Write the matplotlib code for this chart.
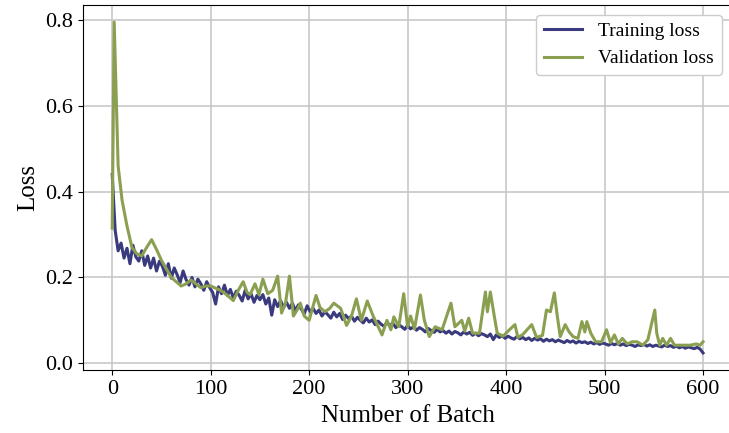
import numpy as np
import matplotlib
matplotlib.use("Agg")
import matplotlib.pyplot as plt

# training loss, one value every 3 batches (0..600)
train_batch = np.arange(0, 601, 3)
train_loss = [
    0.44, 0.31, 0.262, 0.28, 0.245, 0.268, 0.232, 0.275, 0.248, 0.238,
    0.262, 0.228, 0.25, 0.222, 0.245, 0.215, 0.238, 0.226, 0.205, 0.232,
    0.198, 0.222, 0.206, 0.188, 0.215, 0.195, 0.182, 0.2, 0.178, 0.196,
    0.185, 0.17, 0.19, 0.176, 0.165, 0.138, 0.178, 0.162, 0.182, 0.158,
    0.172, 0.152, 0.168, 0.158, 0.145, 0.17, 0.15, 0.162, 0.142, 0.158,
    0.148, 0.16, 0.138, 0.152, 0.112, 0.148, 0.132, 0.146, 0.13, 0.142,
    0.128, 0.14, 0.122, 0.136, 0.126, 0.115, 0.134, 0.12, 0.128, 0.116,
    0.124, 0.11, 0.12, 0.113, 0.105, 0.119, 0.108, 0.116, 0.102, 0.112,
    0.104, 0.11, 0.098, 0.107, 0.1, 0.094, 0.105, 0.096, 0.101, 0.09,
    0.098, 0.091, 0.086, 0.095, 0.088, 0.093, 0.083, 0.09, 0.085, 0.079,
    0.088, 0.08, 0.085, 0.077, 0.083, 0.079, 0.073, 0.081, 0.076, 0.072,
    0.079, 0.073, 0.076, 0.07, 0.075, 0.068, 0.074, 0.071, 0.066, 0.073,
    0.068, 0.072, 0.065, 0.07, 0.064, 0.069, 0.066, 0.062, 0.068, 0.055,
    0.066, 0.06, 0.064, 0.058, 0.063, 0.059, 0.056, 0.062, 0.057, 0.06,
    0.055, 0.059, 0.053, 0.058, 0.054, 0.057, 0.051, 0.056, 0.052, 0.055,
    0.05, 0.054, 0.051, 0.048, 0.053, 0.049, 0.052, 0.047, 0.051, 0.048,
    0.05, 0.046, 0.049, 0.045, 0.048, 0.044, 0.047, 0.045, 0.042, 0.046,
    0.043, 0.046, 0.042, 0.045, 0.041, 0.044, 0.042, 0.039, 0.043, 0.041,
    0.044, 0.04, 0.043, 0.039, 0.042, 0.04, 0.038, 0.042, 0.039, 0.041,
    0.037, 0.04, 0.036, 0.039, 0.035, 0.038, 0.036, 0.034, 0.037, 0.033,
    0.024,
]

# validation loss, read at irregular batches
val_batch = [
    0, 2, 6, 10, 15, 20, 25, 30, 35, 40, 45, 50, 55, 60, 65, 70, 75, 80, 85, 90,
    95, 100, 105, 110, 116, 123, 128, 133, 137, 140, 145, 149, 153, 158, 163, 168,
    172, 176, 180, 184, 188, 191, 195, 200, 207, 211, 216, 221, 225, 232, 238, 243,
    248, 253, 259, 265, 274, 279, 283, 286, 291, 296, 300, 303, 307, 313, 317, 322,
    328, 335, 344, 348, 355, 358, 362, 366, 373, 379, 381, 384, 388, 391, 397, 402,
    409, 412, 417, 426, 431, 437, 441, 445, 449, 452, 455, 460, 464, 468, 473, 477,
    480, 482, 486, 491, 497, 502, 506, 510, 514, 518, 523, 528, 533, 539, 544, 551,
    553, 556, 559, 563, 567, 571, 580, 587, 593, 597, 600,
]
val_loss = [
    0.315, 0.795, 0.46, 0.38, 0.32, 0.27, 0.255, 0.25, 0.27, 0.288, 0.265, 0.24, 0.22, 0.2, 0.19, 0.18, 0.185, 0.194, 0.185, 0.176,
    0.18, 0.18, 0.175, 0.17, 0.16, 0.146, 0.17, 0.19, 0.165, 0.16, 0.185, 0.16, 0.196, 0.162, 0.17, 0.203,
    0.117, 0.14, 0.203, 0.11, 0.125, 0.14, 0.11, 0.1, 0.158, 0.13, 0.12, 0.128, 0.14, 0.128, 0.088, 0.11,
    0.15, 0.1, 0.145, 0.11, 0.066, 0.1, 0.078, 0.108, 0.085, 0.162, 0.085, 0.11, 0.08, 0.159, 0.1, 0.062,
    0.085, 0.078, 0.14, 0.085, 0.1, 0.075, 0.105, 0.07, 0.07, 0.166, 0.12, 0.166, 0.11, 0.07, 0.063, 0.075,
    0.09, 0.06, 0.067, 0.09, 0.06, 0.065, 0.124, 0.12, 0.164, 0.11, 0.062, 0.09, 0.073, 0.062, 0.058, 0.097,
    0.073, 0.097, 0.07, 0.05, 0.05, 0.078, 0.048, 0.066, 0.045, 0.058, 0.045, 0.05, 0.05, 0.042, 0.055, 0.124,
    0.07, 0.042, 0.058, 0.042, 0.058, 0.042, 0.042, 0.042, 0.045, 0.042, 0.05,
]

plt.rcParams['font.family'] = ['Liberation Serif', 'DejaVu Serif']

fig = plt.figure(figsize=(7.29, 4.33), dpi=100)
ax = fig.add_axes([0.1134, 0.1448, 0.8915, 0.8437])

ax.plot(train_batch, train_loss, color='#3a3a7e', lw=2.2, label='Training loss')
ax.plot(val_batch, val_loss, color='#8b9f51', lw=2.2, label='Validation loss')

ax.set_xlim(-30, 630)
ax.set_ylim(-0.0165, 0.835)
ax.set_xticks([0, 100, 200, 300, 400, 500, 600])
ax.set_yticks([0.0, 0.2, 0.4, 0.6, 0.8])
ax.set_yticklabels(['0.0', '0.2', '0.4', '0.6', '0.8'])
ax.tick_params(labelsize=16)
ax.spines['right'].set_visible(False)
ax.grid(True, color='#c8c8c8', lw=1.2)
ax.set_axisbelow(True)
ax.set_xlabel('Number of Batch', fontsize=18)
ax.set_ylabel('Loss', fontsize=18)
ax.legend(loc='upper right', fontsize=14, bbox_to_anchor=(0.998, 1.0), framealpha=1)

fig.savefig('out.png', dpi=100)
